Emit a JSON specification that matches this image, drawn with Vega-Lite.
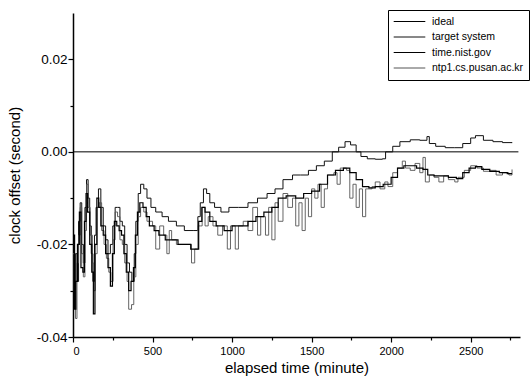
{
  "$schema": "https://vega.github.io/schema/vega-lite/v6.json",
  "width": 447,
  "height": 324,
  "autosize": {"type": "none"},
  "padding": {"left": 73, "top": 13, "right": 10, "bottom": 51},
  "background": "white",
  "config": {
    "view": {"stroke": null},
    "font": "Liberation Sans",
    "axis": {"grid": false, "domainColor": "black", "domainWidth": 1.5, "tickColor": "black", "tickWidth": 1.2, "labelColor": "black", "titleColor": "black", "titleFontWeight": "normal", "labelFont": "Liberation Sans", "titleFont": "Liberation Sans"}
  },
  "datasets": {
    "ideal": [{"t": 0, "v": 0}, {"t": 2800, "v": 0}],
    "target": [
      {"t":0,"v":-0.020},{"t":8,"v":-0.032},{"t":15,"v":-0.022},{"t":25,"v":-0.028},{"t":35,"v":-0.015},{"t":45,"v":-0.011},{"t":55,"v":-0.020},{"t":65,"v":-0.024},{"t":75,"v":-0.012},{"t":85,"v":-0.006},{"t":95,"v":-0.010},{"t":105,"v":-0.016},{"t":115,"v":-0.022},{"t":125,"v":-0.028},{"t":135,"v":-0.018},{"t":145,"v":-0.012},{"t":160,"v":-0.008},{"t":175,"v":-0.012},{"t":190,"v":-0.016},{"t":205,"v":-0.019},{"t":220,"v":-0.022},{"t":235,"v":-0.020},{"t":250,"v":-0.016},{"t":265,"v":-0.012},{"t":280,"v":-0.012},{"t":295,"v":-0.015},{"t":310,"v":-0.016},{"t":325,"v":-0.020},{"t":340,"v":-0.024},{"t":355,"v":-0.026},{"t":370,"v":-0.028},{"t":385,"v":-0.022},{"t":395,"v":-0.015},{"t":410,"v":-0.009},{"t":425,"v":-0.007},{"t":445,"v":-0.008},{"t":465,"v":-0.010},{"t":490,"v":-0.012},{"t":520,"v":-0.013},{"t":560,"v":-0.014},{"t":600,"v":-0.015},{"t":650,"v":-0.016},{"t":700,"v":-0.017},{"t":760,"v":-0.017},{"t":785,"v":-0.014},{"t":800,"v":-0.011},{"t":820,"v":-0.008},{"t":840,"v":-0.009},{"t":860,"v":-0.011},{"t":890,"v":-0.012},{"t":930,"v":-0.013},{"t":980,"v":-0.012},{"t":1040,"v":-0.012},{"t":1100,"v":-0.011},{"t":1160,"v":-0.010},{"t":1220,"v":-0.009},{"t":1270,"v":-0.008},{"t":1320,"v":-0.006},{"t":1380,"v":-0.005},{"t":1430,"v":-0.005},{"t":1480,"v":-0.004},{"t":1530,"v":-0.003},{"t":1580,"v":-0.002},{"t":1630,"v":0.000},{"t":1670,"v":0.001},{"t":1710,"v":0.0022},{"t":1745,"v":0.0015},{"t":1780,"v":0.000},{"t":1810,"v":-0.001},{"t":1850,"v":-0.0015},{"t":1900,"v":-0.0016},{"t":1945,"v":-0.0015},{"t":1965,"v":0.000},{"t":2010,"v":0.0012},{"t":2055,"v":0.0022},{"t":2120,"v":0.0026},{"t":2180,"v":0.0025},{"t":2225,"v":0.0033},{"t":2240,"v":0.0018},{"t":2280,"v":0.0012},{"t":2340,"v":0.0009},{"t":2400,"v":0.0009},{"t":2450,"v":0.0018},{"t":2500,"v":0.003},{"t":2530,"v":0.0035},{"t":2580,"v":0.0025},{"t":2640,"v":0.0022},{"t":2700,"v":0.002},{"t":2760,"v":0.0019}
    ],
    "nist": [
      {"t":0,"v":-0.018},{"t":10,"v":-0.034},{"t":18,"v":-0.028},{"t":28,"v":-0.020},{"t":40,"v":-0.013},{"t":50,"v":-0.025},{"t":62,"v":-0.026},{"t":72,"v":-0.015},{"t":82,"v":-0.009},{"t":92,"v":-0.013},{"t":105,"v":-0.020},{"t":118,"v":-0.026},{"t":128,"v":-0.035},{"t":138,"v":-0.020},{"t":150,"v":-0.010},{"t":162,"v":-0.012},{"t":175,"v":-0.016},{"t":190,"v":-0.018},{"t":205,"v":-0.022},{"t":220,"v":-0.025},{"t":235,"v":-0.029},{"t":248,"v":-0.022},{"t":260,"v":-0.015},{"t":275,"v":-0.016},{"t":290,"v":-0.017},{"t":305,"v":-0.018},{"t":320,"v":-0.022},{"t":335,"v":-0.026},{"t":350,"v":-0.030},{"t":365,"v":-0.028},{"t":380,"v":-0.025},{"t":392,"v":-0.018},{"t":405,"v":-0.013},{"t":420,"v":-0.011},{"t":440,"v":-0.012},{"t":460,"v":-0.014},{"t":480,"v":-0.016},{"t":510,"v":-0.017},{"t":540,"v":-0.018},{"t":580,"v":-0.019},{"t":620,"v":-0.019},{"t":660,"v":-0.020},{"t":700,"v":-0.020},{"t":740,"v":-0.021},{"t":770,"v":-0.021},{"t":790,"v":-0.015},{"t":810,"v":-0.012},{"t":830,"v":-0.013},{"t":860,"v":-0.015},{"t":900,"v":-0.016},{"t":950,"v":-0.017},{"t":1000,"v":-0.016},{"t":1050,"v":-0.016},{"t":1100,"v":-0.015},{"t":1150,"v":-0.014},{"t":1200,"v":-0.013},{"t":1250,"v":-0.012},{"t":1290,"v":-0.010},{"t":1340,"v":-0.0095},{"t":1400,"v":-0.010},{"t":1450,"v":-0.009},{"t":1500,"v":-0.0085},{"t":1550,"v":-0.007},{"t":1600,"v":-0.005},{"t":1650,"v":-0.004},{"t":1700,"v":-0.0035},{"t":1740,"v":-0.0045},{"t":1780,"v":-0.006},{"t":1820,"v":-0.0075},{"t":1860,"v":-0.0078},{"t":1900,"v":-0.0075},{"t":1950,"v":-0.007},{"t":2000,"v":-0.0055},{"t":2040,"v":-0.0035},{"t":2080,"v":-0.003},{"t":2120,"v":-0.003},{"t":2160,"v":-0.0035},{"t":2200,"v":-0.0038},{"t":2230,"v":-0.005},{"t":2270,"v":-0.0052},{"t":2310,"v":-0.0052},{"t":2360,"v":-0.0055},{"t":2410,"v":-0.0058},{"t":2450,"v":-0.0045},{"t":2490,"v":-0.0035},{"t":2530,"v":-0.0032},{"t":2570,"v":-0.0038},{"t":2620,"v":-0.0042},{"t":2680,"v":-0.0045},{"t":2730,"v":-0.0047},{"t":2760,"v":-0.0047}
    ],
    "ntp1": [
      {"t":0,"v":-0.022},{"t":8,"v":-0.030},{"t":16,"v":-0.036},{"t":25,"v":-0.024},{"t":35,"v":-0.018},{"t":45,"v":-0.012},{"t":55,"v":-0.022},{"t":65,"v":-0.027},{"t":75,"v":-0.017},{"t":85,"v":-0.007},{"t":95,"v":-0.012},{"t":108,"v":-0.018},{"t":122,"v":-0.024},{"t":130,"v":-0.030},{"t":140,"v":-0.022},{"t":152,"v":-0.012},{"t":165,"v":-0.011},{"t":180,"v":-0.017},{"t":195,"v":-0.020},{"t":210,"v":-0.023},{"t":225,"v":-0.026},{"t":238,"v":-0.028},{"t":252,"v":-0.019},{"t":265,"v":-0.013},{"t":280,"v":-0.014},{"t":295,"v":-0.019},{"t":310,"v":-0.020},{"t":325,"v":-0.024},{"t":340,"v":-0.028},{"t":350,"v":-0.034},{"t":368,"v":-0.033},{"t":382,"v":-0.027},{"t":395,"v":-0.020},{"t":410,"v":-0.014},{"t":425,"v":-0.012},{"t":445,"v":-0.013},{"t":465,"v":-0.015},{"t":500,"v":-0.016},{"t":520,"v":-0.021},{"t":545,"v":-0.016},{"t":570,"v":-0.018},{"t":590,"v":-0.022},{"t":605,"v":-0.017},{"t":620,"v":-0.019},{"t":650,"v":-0.020},{"t":700,"v":-0.020},{"t":745,"v":-0.024},{"t":765,"v":-0.021},{"t":785,"v":-0.016},{"t":800,"v":-0.016},{"t":812,"v":-0.012},{"t":830,"v":-0.016},{"t":850,"v":-0.014},{"t":880,"v":-0.016},{"t":910,"v":-0.018},{"t":940,"v":-0.016},{"t":970,"v":-0.021},{"t":990,"v":-0.016},{"t":1020,"v":-0.021},{"t":1040,"v":-0.016},{"t":1070,"v":-0.015},{"t":1100,"v":-0.017},{"t":1130,"v":-0.012},{"t":1160,"v":-0.018},{"t":1180,"v":-0.014},{"t":1210,"v":-0.018},{"t":1230,"v":-0.012},{"t":1250,"v":-0.019},{"t":1270,"v":-0.011},{"t":1290,"v":-0.015},{"t":1320,"v":-0.009},{"t":1350,"v":-0.012},{"t":1380,"v":-0.010},{"t":1400,"v":-0.016},{"t":1420,"v":-0.011},{"t":1440,"v":-0.017},{"t":1460,"v":-0.010},{"t":1480,"v":-0.014},{"t":1500,"v":-0.008},{"t":1520,"v":-0.010},{"t":1540,"v":-0.007},{"t":1560,"v":-0.012},{"t":1580,"v":-0.008},{"t":1600,"v":-0.005},{"t":1640,"v":-0.0045},{"t":1660,"v":-0.007},{"t":1680,"v":-0.0035},{"t":1720,"v":-0.004},{"t":1740,"v":-0.010},{"t":1760,"v":-0.007},{"t":1780,"v":-0.012},{"t":1800,"v":-0.008},{"t":1820,"v":-0.014},{"t":1840,"v":-0.008},{"t":1880,"v":-0.0075},{"t":1900,"v":-0.0065},{"t":1930,"v":-0.008},{"t":1960,"v":-0.0065},{"t":1980,"v":-0.0075},{"t":2010,"v":-0.0045},{"t":2040,"v":-0.0035},{"t":2070,"v":-0.002},{"t":2090,"v":-0.0035},{"t":2120,"v":-0.004},{"t":2150,"v":-0.0025},{"t":2180,"v":-0.0045},{"t":2200,"v":-0.0012},{"t":2215,"v":-0.0065},{"t":2240,"v":-0.005},{"t":2270,"v":-0.0055},{"t":2300,"v":-0.0065},{"t":2330,"v":-0.0052},{"t":2360,"v":-0.006},{"t":2400,"v":-0.0065},{"t":2420,"v":-0.0055},{"t":2460,"v":-0.004},{"t":2500,"v":-0.003},{"t":2540,"v":-0.0035},{"t":2580,"v":-0.0042},{"t":2620,"v":-0.004},{"t":2660,"v":-0.005},{"t":2700,"v":-0.0045},{"t":2740,"v":-0.005},{"t":2760,"v":-0.0038}
    ]
  },
  "encoding": {
    "x": {
      "field": "t", "type": "quantitative",
      "scale": {"domain": [0, 2810], "nice": false, "zero": false},
      "axis": {
        "title": "elapsed time (minute)", "titleFontSize": 15, "titlePadding": 4,
        "values": [0, 250, 500, 750, 1000, 1250, 1500, 1750, 2000, 2250, 2500, 2750],
        "labelExpr": "datum.value % 500 == 0 ? format(datum.value, 'd') : ''",
        "labelFontSize": 11, "labelPadding": 3,
        "tickSize": {"condition": {"test": "datum.value % 500 != 0", "value": 3}, "value": 5}
      }
    },
    "y": {
      "field": "v", "type": "quantitative",
      "scale": {"domain": [-0.04, 0.03], "nice": false, "zero": false},
      "axis": {
        "title": "clock offset (second)", "titleFontSize": 15, "titlePadding": 14,
        "values": [-0.04, -0.03, -0.02, -0.01, 0, 0.01, 0.02],
        "labelExpr": "abs(round(datum.value * 100)) % 2 == 1 ? '' : replace(format(datum.value, '.2f'), '\u2212', '-')",
        "labelFontSize": 13.5, "labelPadding": 1,
        "tickSize": {"condition": {"test": "abs(round(datum.value * 100)) % 2 == 1", "value": 3}, "value": 5}
      }
    },
    "color": {
      "scale": {"domain": ["ideal", "target system", "time.nist.gov", "ntp1.cs.pusan.ac.kr"], "range": ["#000000", "#111111", "#000000", "#555555"]},
      "legend": {
        "title": null, "orient": "none", "legendX": 315, "legendY": -3,
        "strokeColor": "black", "fillColor": "white", "padding": 5,
        "symbolType": "stroke", "symbolSize": 1000, "symbolStrokeWidth": 1,
        "labelFontSize": 10.5, "labelFont": "Liberation Sans", "labelColor": "black",
        "clipHeight": 13, "rowPadding": 2.5, "labelOffset": 6
      }
    }
  },
  "layer": [
    {"data": {"name": "ideal"}, "mark": {"type": "line", "strokeWidth": 1}, "encoding": {"color": {"datum": "ideal"}}},
    {"data": {"name": "target"}, "mark": {"type": "line", "interpolate": "step-after", "strokeWidth": 1}, "encoding": {"color": {"datum": "target system"}}},
    {"data": {"name": "ntp1"}, "mark": {"type": "line", "interpolate": "step-after", "strokeWidth": 0.9}, "encoding": {"color": {"datum": "ntp1.cs.pusan.ac.kr"}}},
    {"data": {"name": "nist"}, "mark": {"type": "line", "interpolate": "step-after", "strokeWidth": 1.2}, "encoding": {"color": {"datum": "time.nist.gov"}}}
  ]
}
